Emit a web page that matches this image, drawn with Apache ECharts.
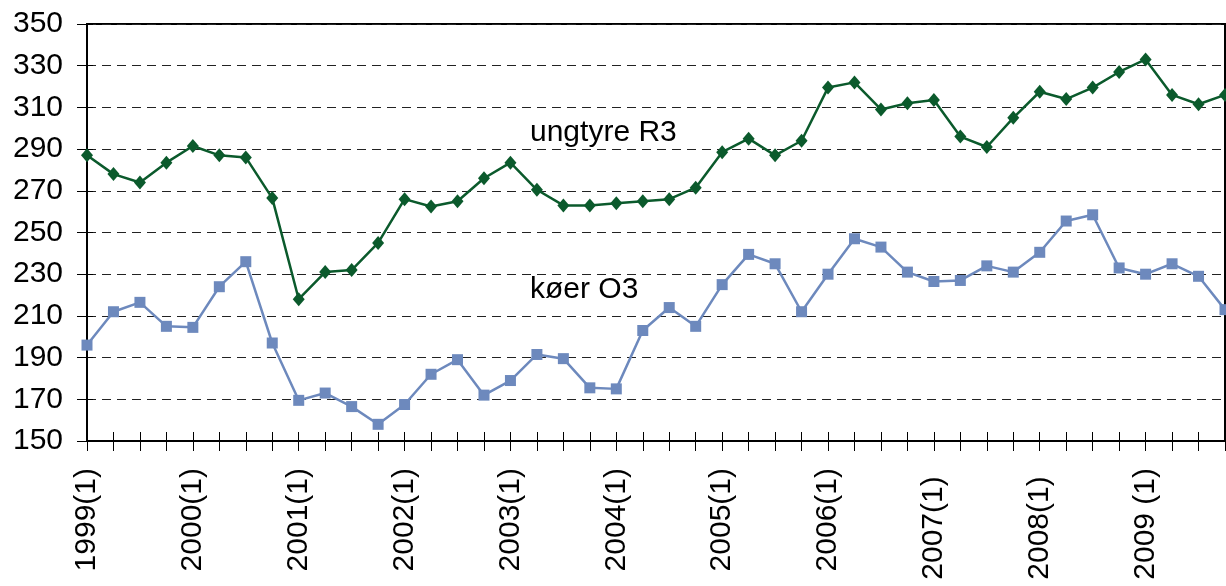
<!DOCTYPE html>
<html>
<head>
<meta charset="utf-8">
<script src="https://cdn.jsdelivr.net/npm/echarts@6/dist/echarts.min.js"></script>
<style>
html,body{margin:0;padding:0;background:#fff;}
#c{width:1226px;height:586px;}
</style>
</head>
<body>
<div id="c"></div>
<script>
var categories = [
  "1999(1)","1999(2)","1999(3)","1999(4)",
  "2000(1)","2000(2)","2000(3)","2000(4)",
  "2001(1)","2001(2)","2001(3)","2001(4)",
  "2002(1)","2002(2)","2002(3)","2002(4)",
  "2003(1)","2003(2)","2003(3)","2003(4)",
  "2004(1)","2004(2)","2004(3)","2004(4)",
  "2005(1)","2005(2)","2005(3)","2005(4)",
  "2006(1)","2006(2)","2006(3)","2006(4)",
  "2007(1) ","2007(2)","2007(3)","2007(4)",
  "2008(1) ","2008(2)","2008(3)","2008(4)",
  "2009 (1)","2009(2)","2009(3)","2009(4)"
];
var ungtyreR3 = [
  287,278,274,283.5, 291.5,287,286,266.5,
  218,231,232,245, 266,262.5,265,276,
  283.5,270.5,263,263, 264,265,266,271.5,
  288.5,295,287,294, 319.5,322,309,312,
  313.5,296,291,305, 317.5,314,319.5,327,
  333,316,311.5,316
];
var koerO3 = [
  196,212,216.5,205, 204.5,224,236,197,
  169.5,173,166.5,158, 167.5,182,189,172,
  179,191.5,189.5,175.5, 175,203,214,205,
  225,239.5,235,212, 230,247,243,231,
  226.5,227,234,231, 240.5,255.5,258.5,233,
  230,235,229,213
];
var yMin = 150, yMax = 350, yStep = 20;
var seriesNames = ["ungtyre R3", "køer O3"];

var chart = echarts.init(document.getElementById('c'), null, {renderer:'canvas'});
var font = 'Liberation Sans, Arial, sans-serif';
chart.setOption({
  animation:false,
  backgroundColor:'#ffffff',
  grid:{left:87, right:1, top:24, bottom:145, show:true, borderColor:'#000', borderWidth:2, backgroundColor:'transparent'},
  xAxis:[{
    type:'category', data:categories, boundaryGap:false,
    axisLine:{lineStyle:{color:'#000', width:2}},
    axisTick:{show:true, interval:0, length:10, lineStyle:{color:'#000', width:1}},
    axisLabel:{interval:3, rotate:90, fontSize:30, color:'#000', fontFamily:font, margin:27},
    splitLine:{show:false}
  },{
    type:'category', data:categories, boundaryGap:false, position:'bottom',
    axisLine:{show:false},
    axisTick:{show:true, inside:true, interval:0, length:9, lineStyle:{color:'#000', width:1}},
    axisLabel:{show:false}, splitLine:{show:false}
  }],
  yAxis:[{
    type:'value', min:yMin, max:yMax, interval:yStep,
    axisLine:{show:true, lineStyle:{color:'#000', width:2}},
    axisTick:{show:true, length:10, lineStyle:{color:'#000', width:1}},
    axisLabel:{fontSize:30, color:'#000', fontFamily:font, margin:24},
    splitLine:{show:true, lineStyle:{color:'#222', width:1, type:[9,6]}}
  },{
    type:'value', min:yMin, max:yMax, interval:yStep, position:'left',
    axisLine:{show:false},
    axisTick:{show:true, inside:true, length:6, lineStyle:{color:'#000', width:1}},
    axisLabel:{show:false}, splitLine:{show:false}
  }],
  series:[{
    name:seriesNames[0], type:'line', data:ungtyreR3,
    symbol:'diamond', symbolSize:[12,14],
    lineStyle:{color:'#0b5a2c', width:2.5},
    itemStyle:{color:'#0b5a2c'}
  },{
    name:seriesNames[1], type:'line', data:koerO3,
    symbol:'rect', symbolSize:11,
    lineStyle:{color:'#6d89bd', width:2.5},
    itemStyle:{color:'#6d89bd'}
  }],
  graphic:[
    {type:'text', left:530, top:118, style:{text:seriesNames[0], font:'30px Liberation Sans, Arial, sans-serif', fill:'#000'}},
    {type:'text', left:530, top:275, style:{text:seriesNames[1], font:'30px Liberation Sans, Arial, sans-serif', fill:'#000'}}
  ]
});
</script>
</body>
</html>
